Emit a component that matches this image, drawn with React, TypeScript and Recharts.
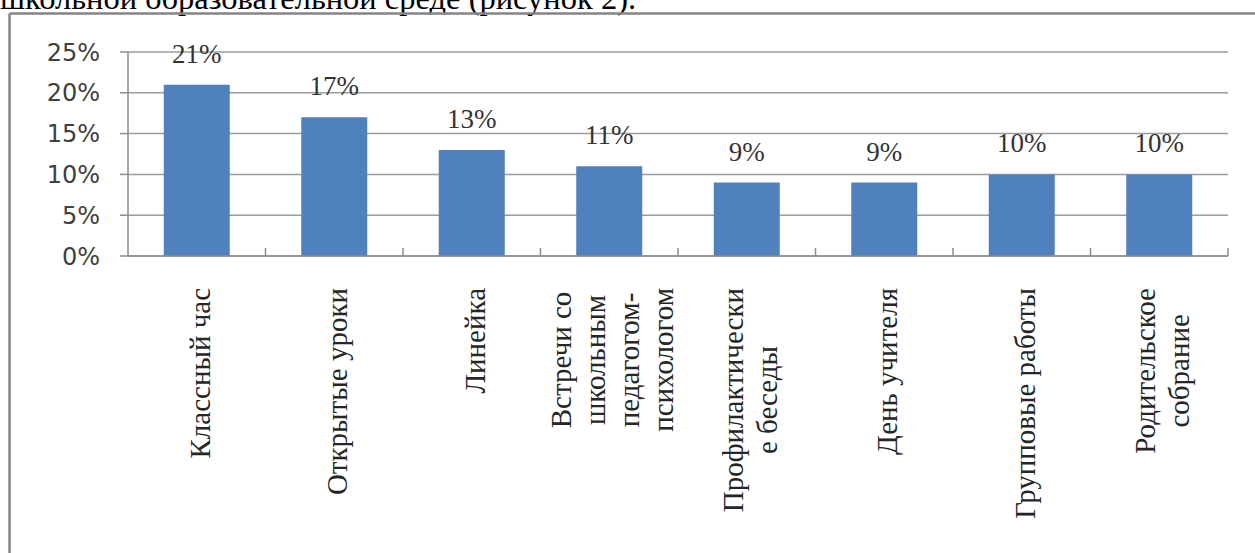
import React from 'react';
import { BarChart, Bar, XAxis, YAxis, CartesianGrid, LabelList } from 'recharts';

const categories = [
  'Классный час',
  'Открытые уроки',
  'Линейка',
  'Встречи со школьным педагогом-психологом',
  'Профилактические беседы',
  'День учителя',
  'Групповые работы',
  'Родительское собрание',
];
const categoryLines = [
  ['Классный час'],
  ['Открытые уроки'],
  ['Линейка'],
  ['Встречи со', 'школьным', 'педагогом-', 'психологом'],
  ['Профилактически', 'е беседы'],
  ['День учителя'],
  ['Групповые работы'],
  ['Родительское', 'собрание'],
];
const shares = [0.21, 0.17, 0.13, 0.11, 0.09, 0.09, 0.10, 0.10];
const yTicks = [0, 0.05, 0.1, 0.15, 0.2, 0.25];
const headingText = 'школьной образовательной среде (рисунок 2).';

const data = categories.map((name, i) => ({ name, value: shares[i] }));

const CAT_FONT_SIZE = 29;
const CAT_FONT = `${CAT_FONT_SIZE}px "Liberation Serif"`;
let ctx: CanvasRenderingContext2D | null = null;
const measure = (t: string) => {
  if (!ctx) ctx = document.createElement('canvas').getContext('2d');
  if (!ctx) return t.length * CAT_FONT_SIZE * 0.5;
  ctx.font = CAT_FONT;
  return ctx.measureText(t).width;
};

const pct = (v: number) => `${Math.round(v * 100)}%`;

const CatTick = (props: any) => {
  const { x, y, payload } = props;
  const idx = categories.indexOf(payload.value);
  const lines = categoryLines[idx] || [String(payload.value)];
  const off = payload.offset || 0;
  const n = lines.length;
  const W = Math.max(...lines.map(measure));
  const cy = y + 32 + W / 2;
  return (
    <g>
      <line x1={x + off} x2={x + off} y1={y - 8} y2={y} stroke="#8c8c8c" strokeWidth={1.5} />
      {lines.map((l, i) => {
        const bx = x + (i - (n - 1) / 2) * 34 + 13;
        return (
          <text
            key={i}
            x={bx}
            y={cy}
            transform={`rotate(-90 ${bx} ${cy})`}
            textAnchor="middle"
            fontFamily='"Liberation Serif"'
            fontSize={CAT_FONT_SIZE}
            fill="#262626"
          >
            {l}
          </text>
        );
      })}
    </g>
  );
};

const ValueLabel = (props: any) => {
  const { x, y, width, value } = props;
  return (
    <text
      x={x + width / 2}
      y={y - 22}
      textAnchor="middle"
      fontFamily='"Liberation Serif"'
      fontSize={27}
      fill="#333333"
    >
      {pct(value)}
    </text>
  );
};

export default function App() {
  return (
    <div style={{ position: 'absolute', left: 0, top: 0, width: 1255, height: 553, background: '#fff', overflow: 'hidden' }}>
      <BarChart width={1255} height={553} data={data} margin={{ top: 52, right: 27, bottom: 0, left: 0 }} barCategoryGap="26%">
        <CartesianGrid vertical={false} stroke="#9c9c9c" strokeWidth={1.5} />
        <YAxis
          width={128}
          domain={[0, 0.25]}
          ticks={yTicks}
          tickFormatter={pct}
          tickSize={8}
          tickMargin={20}
          axisLine={{ stroke: '#8c8c8c', strokeWidth: 1.5 }}
          tickLine={{ stroke: '#8c8c8c', strokeWidth: 1.5 }}
          tick={{ fontFamily: '"DejaVu Sans"', fontSize: 24, fill: '#404040' }}
        />
        <XAxis
          dataKey="name"
          height={297}
          interval={0}
          tickSize={0}
          tickMargin={0}
          tickLine={false}
          axisLine={{ stroke: '#8c8c8c', strokeWidth: 1.5 }}
          tick={(p: any) => <CatTick {...p} />}
        />
        <Bar dataKey="value" fill="#4F81BD" isAnimationActive={false}>
          <LabelList dataKey="value" content={(p: any) => <ValueLabel {...p} />} />
        </Bar>
      </BarChart>
      <svg width={1255} height={553} style={{ position: 'absolute', left: 0, top: 0, pointerEvents: 'none' }}>
        <text x={0} y={9} fontFamily='"Liberation Serif"' fontSize={32.5} fill="#000">
          {headingText}
        </text>
        <line x1={9.5} x2={1255} y1={13.5} y2={13.5} stroke="#858585" strokeWidth={2.5} />
        <line x1={9.5} x2={9.5} y1={13.5} y2={553} stroke="#858585" strokeWidth={2.5} />
      </svg>
    </div>
  );
}
